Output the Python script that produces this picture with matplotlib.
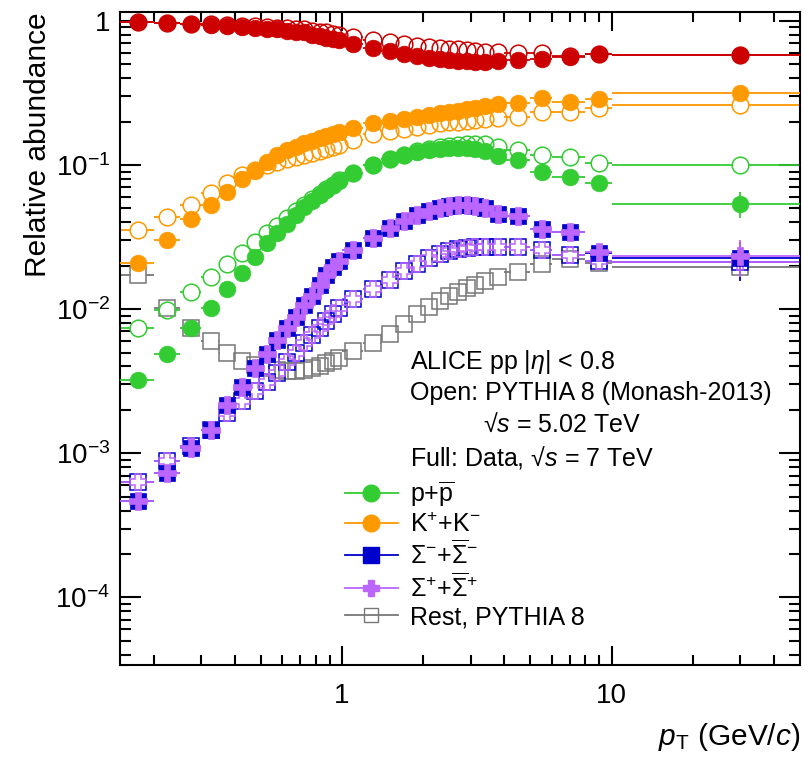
import numpy as np
import matplotlib
matplotlib.use("Agg")
import matplotlib.pyplot as plt
from matplotlib.lines import Line2D
from matplotlib.ticker import FixedLocator, FixedFormatter, NullFormatter

plt.rcParams["font.family"] = ["Liberation Sans", "DejaVu Sans"]
plt.rcParams["mathtext.fontset"] = "custom"
plt.rcParams["mathtext.rm"] = "Liberation Sans"
plt.rcParams["mathtext.it"] = "Liberation Sans:italic"
plt.rcParams["mathtext.bf"] = "Liberation Sans:bold"
plt.rcParams["mathtext.sf"] = "Liberation Sans"

# pT binning (GeV/c)
pt_lo = [0.15, 0.20, 0.25, 0.30, 0.35, 0.40, 0.45, 0.50, 0.55, 0.60, 0.65, 0.70,
         0.75, 0.80, 0.85, 0.90, 0.95, 1.0, 1.2, 1.4, 1.6, 1.8, 2.0, 2.2, 2.4,
         2.6, 2.8, 3.0, 3.2, 3.6, 4.0, 5.0, 6.0, 8.0, 10.0]
pt_hi = [0.20, 0.25, 0.30, 0.35, 0.40, 0.45, 0.50, 0.55, 0.60, 0.65, 0.70, 0.75,
         0.80, 0.85, 0.90, 0.95, 1.0, 1.2, 1.4, 1.6, 1.8, 2.0, 2.2, 2.4, 2.6,
         2.8, 3.0, 3.2, 3.6, 4.0, 5.0, 6.0, 8.0, 10.0, 50.0]
pt = [0.175, 0.225, 0.275, 0.325, 0.375, 0.425, 0.475, 0.525, 0.575, 0.625,
      0.675, 0.725, 0.775, 0.825, 0.875, 0.925, 0.975, 1.1, 1.3, 1.5, 1.7, 1.9,
      2.1, 2.3, 2.5, 2.7, 2.9, 3.1, 3.4, 3.8, 4.5, 5.5, 7.0, 9.0, 30.0]

# relative abundances, data (pp 7 TeV)
pion_data = [0.98, 0.97, 0.95, 0.94, 0.92, 0.91, 0.89, 0.88, 0.87, 0.85, 0.84,
             0.83, 0.80, 0.79, 0.76, 0.75, 0.73, 0.69, 0.65, 0.62, 0.59, 0.57,
             0.55, 0.545, 0.535, 0.53, 0.53, 0.52, 0.52, 0.53, 0.535, 0.545,
             0.56, 0.59, 0.58]
kaon_data = [0.021, 0.030, 0.042, 0.053, 0.065, 0.080, 0.091, 0.105, 0.117,
             0.127, 0.133, 0.142, 0.147, 0.154, 0.159, 0.165, 0.170, 0.180,
             0.194, 0.202, 0.209, 0.216, 0.222, 0.229, 0.232, 0.238, 0.245,
             0.249, 0.257, 0.265, 0.270, 0.292, 0.274, 0.287, 0.316]
proton_data = [0.0032, 0.0049, 0.0074, 0.0102, 0.0138, 0.0178, 0.023, 0.0287,
               0.0337, 0.039, 0.045, 0.051, 0.056, 0.062, 0.067, 0.072, 0.077,
               0.088, 0.100, 0.110, 0.117, 0.122, 0.126, 0.129, 0.131, 0.131,
               0.131, 0.129, 0.124, 0.116, 0.108, 0.089, 0.083, 0.075, 0.054]
sigm_data = [0.00047, 0.00073, 0.00108, 0.00146, 0.00215, 0.0029, 0.0039,
             0.0049, 0.0061, 0.0074, 0.0088, 0.0106, 0.0124, 0.0148, 0.0172,
             0.0196, 0.0215, 0.0255, 0.031, 0.0365, 0.041, 0.045, 0.048, 0.050,
             0.052, 0.053, 0.053, 0.052, 0.050, 0.046, 0.044, 0.036, 0.034,
             0.0245, 0.0225]
sigp_data = [0.00047, 0.00073, 0.00108, 0.00146, 0.00215, 0.0029, 0.0039,
             0.0049, 0.0061, 0.0074, 0.0088, 0.0106, 0.0124, 0.0148, 0.0172,
             0.0196, 0.0215, 0.0255, 0.031, 0.0365, 0.041, 0.045, 0.048, 0.050,
             0.052, 0.053, 0.053, 0.052, 0.050, 0.046, 0.044, 0.036, 0.034,
             0.0248, 0.0235]
proton_err_last = 0.011
sigma_err_last = 0.0068

# PYTHIA 8 (Monash-2013), 5.02 TeV
pion_pythia = [0.98, 0.97, 0.95, 0.95, 0.94, 0.92, 0.92, 0.91, 0.89, 0.89,
               0.88, 0.87, 0.85, 0.84, 0.83, 0.81, 0.80, 0.774, 0.738, 0.715,
               0.692, 0.67, 0.66, 0.65, 0.64, 0.64, 0.63, 0.62, 0.61, 0.61,
               0.60, 0.60, 0.57, 0.59, 0.58]
kaon_pythia = [0.0354, 0.0435, 0.053, 0.064, 0.075, 0.085, 0.092, 0.100, 0.105,
               0.110, 0.114, 0.118, 0.121, 0.125, 0.128, 0.133, 0.138, 0.149,
               0.163, 0.172, 0.178, 0.184, 0.189, 0.194, 0.197, 0.200, 0.203,
               0.205, 0.209, 0.212, 0.216, 0.233, 0.233, 0.249, 0.261]
proton_pythia = [0.0074, 0.0098, 0.0131, 0.0167, 0.0205, 0.0245, 0.029, 0.0337,
                 0.038, 0.043, 0.048, 0.053, 0.058, 0.063, 0.068, 0.073, 0.078,
                 0.088, 0.100, 0.110, 0.118, 0.124, 0.129, 0.133, 0.136, 0.138,
                 0.139, 0.140, 0.139, 0.133, 0.126, 0.117, 0.114, 0.103, 0.100]
sigm_pythia = [0.00063, 0.00088, 0.00113, 0.00144, 0.0019, 0.0023, 0.0027,
               0.0031, 0.0036, 0.0043, 0.0050, 0.0058, 0.0066, 0.0074, 0.0083,
               0.0092, 0.0101, 0.0118, 0.0138, 0.0158, 0.0185, 0.0207, 0.0225,
               0.0242, 0.0253, 0.0262, 0.0267, 0.027, 0.027, 0.027, 0.0268,
               0.0257, 0.0237, 0.0215, 0.0212]
sigp_pythia = [0.00063, 0.00088, 0.00113, 0.00144, 0.0019, 0.0023, 0.0027,
               0.0031, 0.0036, 0.0043, 0.0050, 0.0058, 0.0066, 0.0074, 0.0083,
               0.0092, 0.0101, 0.0118, 0.0138, 0.0158, 0.0185, 0.0207, 0.0225,
               0.0242, 0.0253, 0.0262, 0.0267, 0.027, 0.027, 0.027, 0.0268,
               0.0257, 0.0237, 0.0215, 0.0212]
rest_pythia = [0.0172, 0.0102, 0.0074, 0.0060, 0.0050, 0.0044, 0.0041, 0.0039,
               0.0038, 0.0037, 0.0037, 0.0038, 0.0039, 0.0040, 0.0042, 0.0044,
               0.0046, 0.0051, 0.0058, 0.0067, 0.0079, 0.0092, 0.0103, 0.0113,
               0.0123, 0.0132, 0.0140, 0.0147, 0.0156, 0.0166, 0.0180, 0.0205,
               0.0222, 0.0210, 0.0197]

RED = "#cc0000"
ORANGE = "#ff9900"
GREEN = "#33cc33"
BLUE = "#0000cc"
VIOLET = "#bb66ff"
GREY = "#777777"

W, H = 809, 767
fig = plt.figure(figsize=(W / 100, H / 100), dpi=100)
ax = fig.add_axes([120 / W, 102 / H, 680 / W, 653 / H])
ax.set_xscale("log")
ax.set_yscale("log")
ax.set_xlim(0.15, 50)
ax.set_ylim(3.4e-5, 1.15)

x = np.array(pt)
xlo = np.array(pt_lo)
xhi = np.array(pt_hi)


def draw(vals, color, marker, ms, filled, yerr=None, gap=8.0, z=3):
    """points with horizontal bin-width bars (gapped at the marker)"""
    y = np.array(vals)
    disp = ax.transData.transform(np.column_stack([x, y]))
    inv = ax.transData.inverted()
    left = inv.transform(disp - [gap, 0])[:, 0]
    right = inv.transform(disp + [gap, 0])[:, 0]
    m = xlo < left
    ax.hlines(y[m], xlo[m], left[m], color=color, lw=1.3, zorder=z)
    m = right < xhi
    ax.hlines(y[m], right[m], xhi[m], color=color, lw=1.3, zorder=z)
    if yerr is not None:
        e = np.array(yerr)
        m = e > 0
        ax.vlines(x[m], y[m] - e[m], y[m] + e[m], color=color, lw=1.3, zorder=z)
    if filled:
        ax.plot(x, y, ls="none", marker=marker, ms=ms, mfc=color, mec=color,
                mew=0.5, zorder=z + 0.5)
    else:
        ax.plot(x, y, ls="none", marker=marker, ms=ms, mfc="none", mec=color,
                mew=1.1, zorder=z + 0.5)


p_err = np.zeros(len(pt))
p_err[-1] = proton_err_last
s_err = np.zeros(len(pt))
s_err[-1] = sigma_err_last

# PYTHIA curves (open)
draw(rest_pythia, GREY, "s", 11, False, gap=7.5, z=2)
draw(sigm_pythia, BLUE, "s", 11, False, gap=7.5, z=2)
draw(sigp_pythia, VIOLET, "P", 11.5, False, gap=7.5, z=2.1)
draw(proton_pythia, GREEN, "o", 12, False, z=2)
draw(kaon_pythia, ORANGE, "o", 12, False, z=2)
draw(pion_pythia, RED, "o", 12, False, z=2)

# data (full)
draw(sigm_data, BLUE, "s", 12, True, yerr=s_err, z=4)
draw(sigp_data, VIOLET, "P", 12.5, True, yerr=s_err, z=4.1)
draw(proton_data, GREEN, "o", 12, True, yerr=p_err, z=4)
draw(kaon_data, ORANGE, "o", 12, True, z=4)
draw(pion_data, RED, "o", 12, True, z=4)

# axes style
for s in ax.spines.values():
    s.set_linewidth(1.5)
ax.xaxis.set_major_locator(FixedLocator([1, 10]))
ax.xaxis.set_major_formatter(FixedFormatter(["1", "10"]))
ax.xaxis.set_minor_locator(FixedLocator([0.2, 0.3, 0.4, 0.5, 0.6, 0.7, 0.8, 0.9,
                                         2, 3, 4, 5, 6, 7, 8, 9, 20, 30, 40]))
ax.xaxis.set_minor_formatter(NullFormatter())
ax.yaxis.set_major_locator(FixedLocator([1e-4, 1e-3, 1e-2, 1e-1, 1]))
ax.yaxis.set_major_formatter(FixedFormatter(
    [r"$10^{-4}$", r"$10^{-3}$", r"$10^{-2}$", r"$10^{-1}$", "1"]))
yminor = [k * 10.0 ** e for e in range(-5, 1) for k in range(2, 10)]
ax.yaxis.set_minor_locator(FixedLocator(yminor))
ax.yaxis.set_minor_formatter(NullFormatter())
ax.tick_params(which="both", direction="in", top=True, right=True,
               width=1.5, labelsize=20)
ax.tick_params(axis="x", which="major", length=13.5, pad=13)
ax.tick_params(axis="x", which="minor", length=7)
ax.tick_params(axis="y", which="major", length=15, pad=7)
ax.tick_params(axis="y", which="minor", length=8)

ax.set_ylabel("Relative abundance", fontsize=21.5, loc="top")
ax.yaxis.set_label_coords(-0.1, 1.0)
ax.set_xlabel(r"$p_{\mathrm{T}}$ (GeV/$c$)", fontsize=21.5, loc="right")
ax.xaxis.set_label_coords(1.0, -0.085)

txt = dict(transform=ax.transAxes, fontsize=18, va="center", ha="left")
ax.text(0.4265, 0.464, r"ALICE pp |$\eta$| < 0.8", **txt)
ax.text(0.4265, 0.4165, "Open: PYTHIA 8 (Monash-2013)", **txt)
ax.text(0.534, 0.3675, "√$s$ = 5.02 TeV", **txt)
ax.text(0.4265, 0.317, "Full: Data, √$s$ = 7 TeV", **txt)

handles = [
    Line2D([], [], color=GREEN, lw=1.3, marker="o", ms=12, mfc=GREEN, mec=GREEN),
    Line2D([], [], color=ORANGE, lw=1.3, marker="o", ms=12, mfc=ORANGE, mec=ORANGE),
    Line2D([], [], color=BLUE, lw=1.3, marker="s", ms=11, mfc=BLUE, mec=BLUE),
    Line2D([], [], color=VIOLET, lw=1.3, marker="P", ms=12, mfc=VIOLET, mec=VIOLET),
    Line2D([], [], color=GREY, lw=1.3, marker="s", ms=10, mfc="none", mec=GREY, mew=1.0),
]
labels = [
    r"p+$\overline{\mathrm{p}}$",
    r"K$^{+}$+K$^{-}$",
    r"$\Sigma^{-}$+$\overline{\Sigma}^{-}$",
    r"$\Sigma^{+}$+$\overline{\Sigma}^{+}$",
    "Rest, PYTHIA 8",
]
ax.legend(handles, labels, loc="upper left", bbox_to_anchor=(0.331, 0.285),
          frameon=False, fontsize=18, handlelength=2.1, handletextpad=0.48,
          labelspacing=0.14, borderpad=0, borderaxespad=0)

fig.savefig("out.png", dpi=100)
